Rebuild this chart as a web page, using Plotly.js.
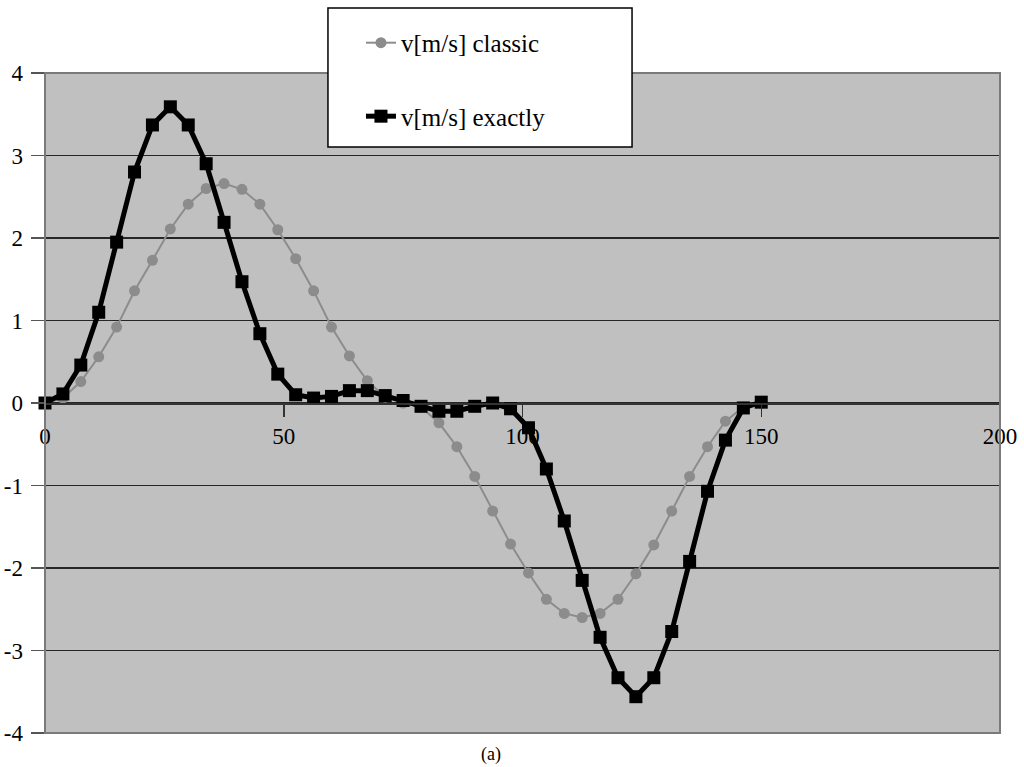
<!DOCTYPE html>
<html>
<head>
<meta charset="utf-8">
<script src="https://cdn.plot.ly/plotly-3.0.1.min.js"></script>
<style>html,body{margin:0;padding:0;background:#fff;}#chart{width:1024px;height:767px;}</style>
</head>
<body>
<div id="chart"></div>
<script>
// time steps (x axis)
const xValues = [0, 3.75, 7.5, 11.25, 15, 18.75, 22.5, 26.25, 30, 33.75, 37.5, 41.25, 45, 48.75, 52.5, 56.25, 60, 63.75, 67.5, 71.25, 75,
  78.75, 82.5, 86.25, 90, 93.75, 97.5, 101.25, 105, 108.75, 112.5, 116.25, 120, 123.75, 127.5, 131.25, 135, 138.75, 142.5, 146.25, 150];

// v[m/s] classic
const vClassic = [0, 0.06, 0.26, 0.56, 0.92, 1.36, 1.73, 2.11, 2.41, 2.6, 2.66, 2.59, 2.41, 2.1, 1.75, 1.36, 0.92, 0.57, 0.27, 0.07, 0,
  -0.05, -0.24, -0.53, -0.89, -1.31, -1.71, -2.06, -2.38, -2.55, -2.6, -2.55, -2.38, -2.07, -1.72, -1.31, -0.89, -0.53, -0.22, -0.05, 0];

// v[m/s] exactly
const vExactly = [0, 0.11, 0.46, 1.1, 1.95, 2.8, 3.37, 3.59, 3.37, 2.9, 2.19, 1.47, 0.84, 0.35, 0.1, 0.06, 0.08, 0.15, 0.15, 0.09, 0.03,
  -0.04, -0.1, -0.1, -0.04, 0, -0.07, -0.3, -0.8, -1.43, -2.15, -2.84, -3.33, -3.56, -3.33, -2.77, -1.92, -1.07, -0.45, -0.06, 0.01];

const seriesNames = ["v[m/s] classic", "v[m/s] exactly"];
const yTicks = [-4, -3, -2, -1, 0, 1, 2, 3, 4];
const xTicks = [0, 50, 100, 150, 200];
const caption = "(a)";

const serif = "Liberation Serif, Times New Roman, DejaVu Serif, serif";

const traces = [
  {
    x: xValues, y: vClassic, name: seriesNames[0], type: "scatter", mode: "lines+markers",
    legendgroup: "a",
    line: {color: "#8c8c8c", width: 2},
    marker: {symbol: "circle", size: 11, color: "#8c8c8c"},
    cliponaxis: false
  },
  {
    x: xValues, y: vExactly, name: seriesNames[1], type: "scatter", mode: "lines+markers",
    legendgroup: "b",
    line: {color: "#000000", width: 5},
    marker: {symbol: "square", size: 13, color: "#000000"},
    cliponaxis: false
  }
];

const layout = {
  width: 1024, height: 767,
  margin: {l: 45, r: 24, t: 73, b: 34, pad: 0},
  paper_bgcolor: "#ffffff",
  plot_bgcolor: "#c0c0c0",
  font: {family: serif, color: "#000000", size: 23},
  showlegend: true,
  legend: {
    x: 0.2963, y: 1.0804, xanchor: "left", yanchor: "top",
    bgcolor: "rgba(0,0,0,0)", borderwidth: 0,
    font: {family: serif, size: 25, color: "#000000"},
    traceorder: "grouped", tracegroupgap: 38,
    indentation: 33
  },
  xaxis: {
    range: [0, 200], tickvals: xTicks, ticktext: xTicks.map(String),
    anchor: "free", position: 0.5,
    showline: true, linecolor: "#333333", linewidth: 1.5,
    ticks: "outside", ticklen: 12, tickcolor: "#333333", tickwidth: 1.5,
    ticklabelstandoff: 0,
    showgrid: false, zeroline: false,
    tickfont: {family: serif, size: 23}
  },
  yaxis: {
    range: [-4, 4], tickvals: yTicks, ticktext: yTicks.map(String),
    showline: true, linecolor: "#555555", linewidth: 1.5,
    ticks: "outside", ticklen: 13, tickcolor: "#555555", tickwidth: 1.5,
    ticklabelstandoff: 3,
    showgrid: true, gridcolor: "#262626", gridwidth: 1.5,
    zeroline: false,
    tickfont: {family: serif, size: 23}
  },
  shapes: [
    {type: "rect", xref: "paper", yref: "paper", x0: 0, x1: 1, y0: 0, y1: 1,
     line: {color: "#7a7a7a", width: 2}, fillcolor: "rgba(0,0,0,0)", layer: "above"},
    {type: "rect", xref: "paper", yref: "paper", x0: 0.2963, x1: 0.6147, y0: 0.8879, y1: 1.0985,
     line: {color: "#000000", width: 1.5}, fillcolor: "#ffffff", layer: "above"}
  ],
  annotations: [
    {text: caption, xref: "paper", yref: "paper", x: 0.467, y: -0.033, xanchor: "center", yanchor: "middle",
     showarrow: false, font: {family: serif, size: 18, color: "#000000"}}
  ]
};

Plotly.newPlot("chart", traces, layout, {displayModeBar: false, staticPlot: true});
</script>
</body>
</html>
